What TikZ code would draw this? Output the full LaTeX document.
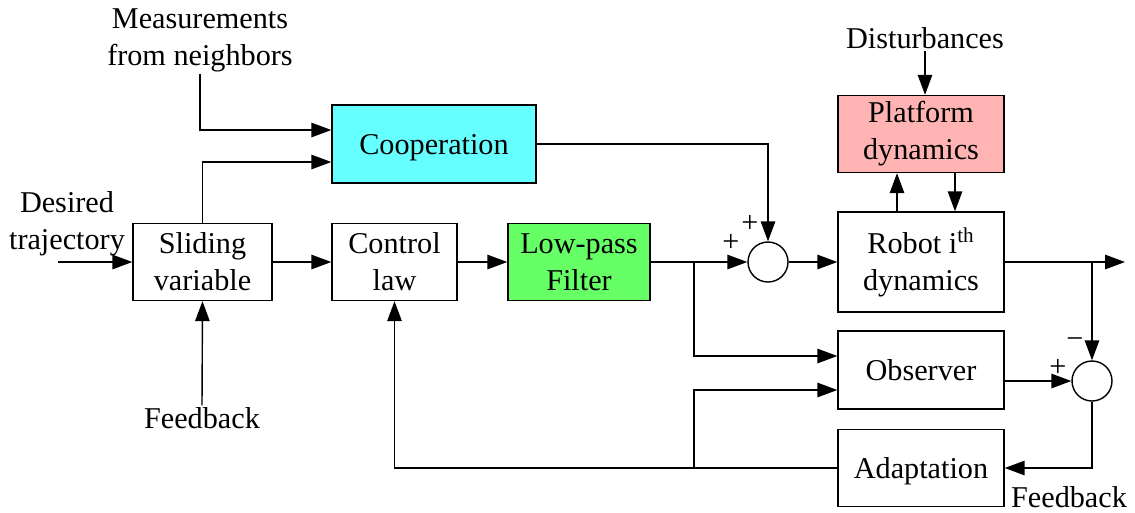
\documentclass[tikz,border=0pt]{standalone}
\usepackage{fontspec}
\setmainfont{Liberation Serif}
\usetikzlibrary{arrows.meta,calc}
\definecolor{coopcol}{RGB}{102,255,255}
\definecolor{platcol}{RGB}{255,179,179}
\definecolor{filtcol}{RGB}{102,255,102}
\tikzset{
  blk/.style={draw, line width=0.8pt, minimum height=1.54cm, align=center, inner sep=2pt},
  one/.style={text height=16pt, text depth=3.7pt},
  sumnode/.style={draw, circle, line width=0.8pt, minimum size=0.8cm, inner sep=0pt},
  con/.style={line width=0.8pt, -{Triangle[length=0.4cm,width=0.29cm]}},
  lbl/.style={align=center, inner sep=1pt},
}
\begin{document}
\begin{tikzpicture}[x=0.02cm, y=-0.02cm, font=\fontsize{17.2}{21}\selectfont]
        \useasboundingbox (0,0) rectangle (1135,512);
        % blocks
        \node[blk, minimum width=2.78cm] (slide) at (202.5,262) {Sliding\\variable};
        \node[blk, minimum width=2.5cm] (ctrl) at (394.5,262) {Control\\law};
        \node[blk, minimum width=2.84cm, fill=filtcol] (filt) at (579,262) {Low-pass\\Filter};
        \node[blk, one, minimum width=4.08cm, minimum height=1.56cm, fill=coopcol] (coop) at (434,144) {Cooperation};
        \node[blk, minimum width=3.32cm, fill=platcol] (plat) at (921,134) {Platform\\dynamics};
        \node[blk, minimum width=3.32cm, minimum height=2cm] (robot) at (921,262) {Robot i\textsuperscript{th}\\dynamics};
        \node[blk, one, minimum width=3.32cm, minimum height=1.56cm] (obs) at (921,370) {Observer};
        \node[blk, one, minimum width=3.32cm] (adapt) at (921,468) {Adaptation};
        \node[sumnode] (sum1) at (768,262) {};
        \node[sumnode] (sum2) at (1092,381) {};
        % texts
        \node[lbl] (meas) at (200,40) {Measurements\\from neighbors};
        \node[lbl] (des) at (67,224) {Desired\\trajectory};
        \node[lbl] (fb1) at (202,418) {Feedback};
        \node[lbl] (dist) at (925,38) {Disturbances};
        \node[lbl] (fb2) at (1069,497) {Feedback};
        \node (p1) at (750,224) {+};
        \node (p2) at (731,243) {+};
        \node (m3) at (1075,343) {−};
        \node (p4) at (1058,368) {+};
        \coordinate (din) at (58,262);
        \coordinate (out) at (1125,262);
        \coordinate (br) at (1092,262);
        \coordinate (b1) at (694,262);
        \coordinate (b2) at (694,468);
        % connectors
        \draw[con] (din) -- (slide.west);
        \draw[con] (slide.east) -- (ctrl.west);
        \draw[con] (ctrl.east) -- (filt.west);
        \draw[con] (filt.east) -- (sum1.west);
        \draw[con] (sum1.east) -- (robot.west);
        \draw[con] (robot.east) -- (out);
        \draw[con] (meas.south) |- ($(coop.west)+(0,-14)$);
        \draw[con] (slide.north) |- ($(coop.west)+(0,18)$);
        \draw[con] (coop.east) -| (sum1.north);
        \draw[con] (fb1.north) -- (slide.south);
        \draw[con] (dist.south) -- (dist.south |- plat.north);
        \draw[con] ($(robot.north)+(-24,0)$) -- ($(plat.south)+(-24,0)$);
        \draw[con] ($(plat.south)+(34,0)$) -- ($(robot.north)+(34,0)$);
        \draw[con] (br) -- (sum2.north);
        \draw[con] (obs.east |- sum2.west) -- (sum2.west);
        \draw[con] (sum2.south) |- (adapt.east);
        \draw[con] (adapt.west) -| (ctrl.south);
        \draw[con] (b1) |- ($(obs.west)+(0,-14)$);
        \draw[con] (b2) |- ($(obs.west)+(0,20)$);
\end{tikzpicture}
\end{document}
